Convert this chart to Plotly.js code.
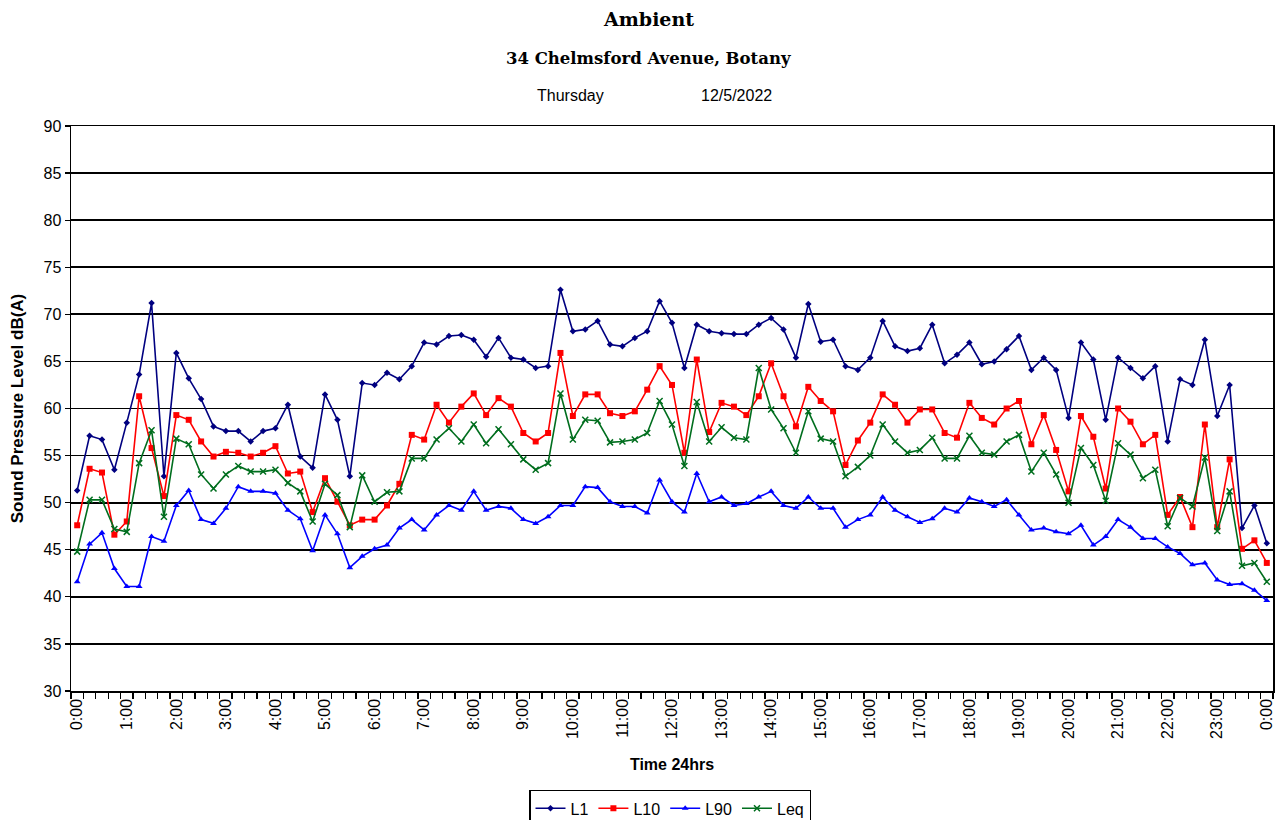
<!DOCTYPE html>
<html>
<head>
<meta charset="utf-8">
<script src="https://cdn.plot.ly/plotly-3.0.1.min.js"></script>
<style>
  html, body { margin: 0; padding: 0; background: #ffffff; }
  #chart { width: 1288px; height: 820px; }
</style>
</head>
<body>
<div id="chart"></div>
<script>
// Hour tick labels (one every 4 fifteen-minute intervals)
const hourLabels = ["0:00","1:00","2:00","3:00","4:00","5:00","6:00","7:00","8:00","9:00","10:00","11:00",
  "12:00","13:00","14:00","15:00","16:00","17:00","18:00","19:00","20:00","21:00","22:00","23:00","0:00"];

// 15-minute interval values, 0:00 to 0:00 (97 points)
const L1 = [51.3,57.1,56.7,53.5,58.5,63.6,71.2,52.8,65.9,63.2,61.0,58.1,57.6,57.6,56.5,57.6,
  57.9,60.4,54.9,53.7,61.5,58.8,52.8,62.7,62.5,63.8,63.1,64.5,67.0,66.8,67.7,67.8,
  67.3,65.5,67.5,65.4,65.2,64.3,64.5,72.6,68.2,68.4,69.3,66.8,66.6,67.5,68.2,71.4,
  69.1,64.3,68.9,68.2,68.0,67.9,67.9,68.9,69.6,68.4,65.4,71.1,67.1,67.3,64.5,64.1,
  65.4,69.3,66.6,66.1,66.4,68.9,64.8,65.7,67.0,64.7,65.0,66.3,67.7,64.1,65.4,64.1,
  59.0,67.0,65.2,58.8,65.4,64.3,63.2,64.5,56.5,63.1,62.5,67.3,59.2,62.5,47.3,49.7,45.7];

const L10 = [47.6,53.6,53.2,46.6,48.0,61.3,55.8,50.7,59.3,58.8,56.5,54.9,55.4,55.3,54.9,55.3,
  56.0,53.1,53.3,49.0,52.6,50.1,47.6,48.2,48.2,49.7,52.0,57.2,56.7,60.4,58.5,60.2,
  61.6,59.3,61.1,60.2,57.4,56.5,57.4,65.9,59.2,61.5,61.5,59.5,59.2,59.7,62.0,64.5,
  62.5,55.3,65.2,57.5,60.6,60.2,59.3,61.3,64.8,61.3,58.1,62.3,60.8,59.7,54.0,56.6,
  58.5,61.5,60.4,58.5,59.9,59.9,57.4,56.9,60.6,59.0,58.3,60.0,60.8,56.2,59.3,55.6,
  51.2,59.2,57.0,51.5,60.0,58.6,56.2,57.2,48.7,50.6,47.4,58.3,47.4,54.6,45.1,46.0,43.6];

const L90 = [41.6,45.6,46.8,43.0,41.1,41.1,46.4,45.9,49.7,51.3,48.2,47.8,49.4,51.7,51.2,51.2,
  51.0,49.2,48.3,44.9,48.7,46.7,43.1,44.3,45.1,45.5,47.3,48.2,47.1,48.7,49.7,49.2,
  51.2,49.2,49.6,49.4,48.2,47.8,48.5,49.7,49.7,51.7,51.6,50.1,49.6,49.6,48.9,52.4,
  50.1,49.0,53.1,50.1,50.6,49.7,49.9,50.6,51.2,49.7,49.4,50.6,49.4,49.4,47.4,48.2,
  48.7,50.6,49.2,48.5,47.9,48.3,49.4,49.0,50.5,50.1,49.6,50.3,48.7,47.1,47.3,46.9,
  46.7,47.6,45.5,46.4,48.2,47.4,46.2,46.2,45.3,44.6,43.4,43.6,41.8,41.3,41.4,40.7,39.6];

const Leq = [44.8,50.3,50.3,47.2,46.9,54.2,57.7,48.5,56.8,56.2,53.0,51.5,53.0,53.9,53.3,53.3,
  53.5,52.1,51.2,48.0,52.0,50.8,47.4,52.9,50.1,51.1,51.2,54.7,54.7,56.7,57.9,56.5,
  58.3,56.3,57.8,56.2,54.6,53.5,54.2,61.6,56.7,58.8,58.7,56.4,56.5,56.7,57.4,60.8,
  58.3,53.9,60.7,56.5,58.0,56.9,56.7,64.3,59.9,57.9,55.3,59.7,56.8,56.5,52.8,53.8,
  55.0,58.3,56.5,55.3,55.6,56.9,54.7,54.7,57.1,55.3,55.1,56.5,57.2,53.3,55.3,53.0,
  50.0,55.8,54.0,50.2,56.3,55.1,52.6,53.5,47.5,50.5,49.6,54.8,47.0,51.2,43.3,43.6,41.6];

const idx = L1.map((_, i) => i);
const hourPos = hourLabels.map((_, h) => h * 4);

function trace(name, y, color, symbol, size, extra) {
  const m = { symbol: symbol, size: size, color: color, line: { color: color, width: 0 } };
  Object.assign(m, extra || {});
  return { x: idx, y: y, name: name, type: 'scatter', mode: 'lines+markers',
    line: { color: color, width: 1.6 }, marker: m };
}

const data = [
  trace('L1', L1, '#000080', 'diamond', 5),
  trace('L10', L10, '#FF0000', 'square', 6),
  trace('L90', L90, '#0000FF', 'triangle-up', 6),
  trace('Leq', Leq, '#006E1E', 'x-thin-open', 6, { line: { color: '#006E1E', width: 1.5 } })
];

const titleX = (648 - 71) / 1202;

const layout = {
  width: 1288, height: 820,
  margin: { l: 71, r: 15, t: 126, b: 129, autoexpand: false },
  paper_bgcolor: '#ffffff', plot_bgcolor: '#ffffff',
  font: { family: 'Liberation Sans, Arial, sans-serif', size: 16, color: '#000000' },
  showlegend: true,
  legend: {
    orientation: 'h', x: (670 - 71) / 1202, xanchor: 'center', y: -0.175, yanchor: 'top',
    bordercolor: '#000000', borderwidth: 1.5, bgcolor: '#ffffff',
    font: { size: 16 }, itemwidth: 30, tracegroupgap: 0
  },
  xaxis: {
    range: [-0.5, 96.5], autorange: false, automargin: false,
    tickmode: 'array', tickvals: hourPos, ticktext: hourLabels,
    tickangle: -90, ticks: '', tickfont: { size: 16 },
    showgrid: false, zeroline: false,
    showline: true, linecolor: '#000000', linewidth: 1.5, mirror: true,
    minor: { tickmode: 'linear', tick0: -0.5, dtick: 1, ticks: 'outside', ticklen: 6, tickwidth: 1.3, tickcolor: '#000000', showgrid: false },
    title: { text: '<b>Time 24hrs</b>', font: { size: 16 }, standoff: 21 }
  },
  yaxis: {
    range: [30, 90], autorange: false, automargin: false, dtick: 5, tick0: 30,
    ticks: 'outside', ticklen: 5, tickwidth: 1.3, tickcolor: '#000000',
    showgrid: true, gridcolor: '#000000', gridwidth: 1.8,
    zeroline: false,
    showline: true, linecolor: '#000000', linewidth: 1.5, mirror: true,
    tickfont: { size: 16 },
    title: { text: '<b>Sound Pressure Level dB(A)</b>', font: { size: 17 }, standoff: 15 }
  },
  annotations: [
    { text: '<b>Ambient</b>', xref: 'paper', yref: 'paper', x: titleX, y: (691 - 19) / 565, xanchor: 'center', yanchor: 'middle',
      showarrow: false, font: { family: 'DejaVu Serif, serif', size: 19 } },
    { text: '<b>34 Chelmsford Avenue, Botany</b>', xref: 'paper', yref: 'paper', x: titleX, y: (691 - 59) / 565, xanchor: 'center', yanchor: 'middle',
      showarrow: false, font: { family: 'DejaVu Serif, serif', size: 16.5 } },
    { text: 'Thursday', xref: 'paper', yref: 'paper', x: (570 - 71) / 1202, y: (691 - 96) / 565, xanchor: 'center', yanchor: 'middle',
      showarrow: false, font: { size: 16 } },
    { text: '12/5/2022', xref: 'paper', yref: 'paper', x: (737 - 71) / 1202, y: (691 - 96) / 565, xanchor: 'center', yanchor: 'middle',
      showarrow: false, font: { size: 16 } }
  ]
};

Plotly.newPlot('chart', data, layout, { displayModeBar: false, staticPlot: true });
</script>
</body>
</html>
